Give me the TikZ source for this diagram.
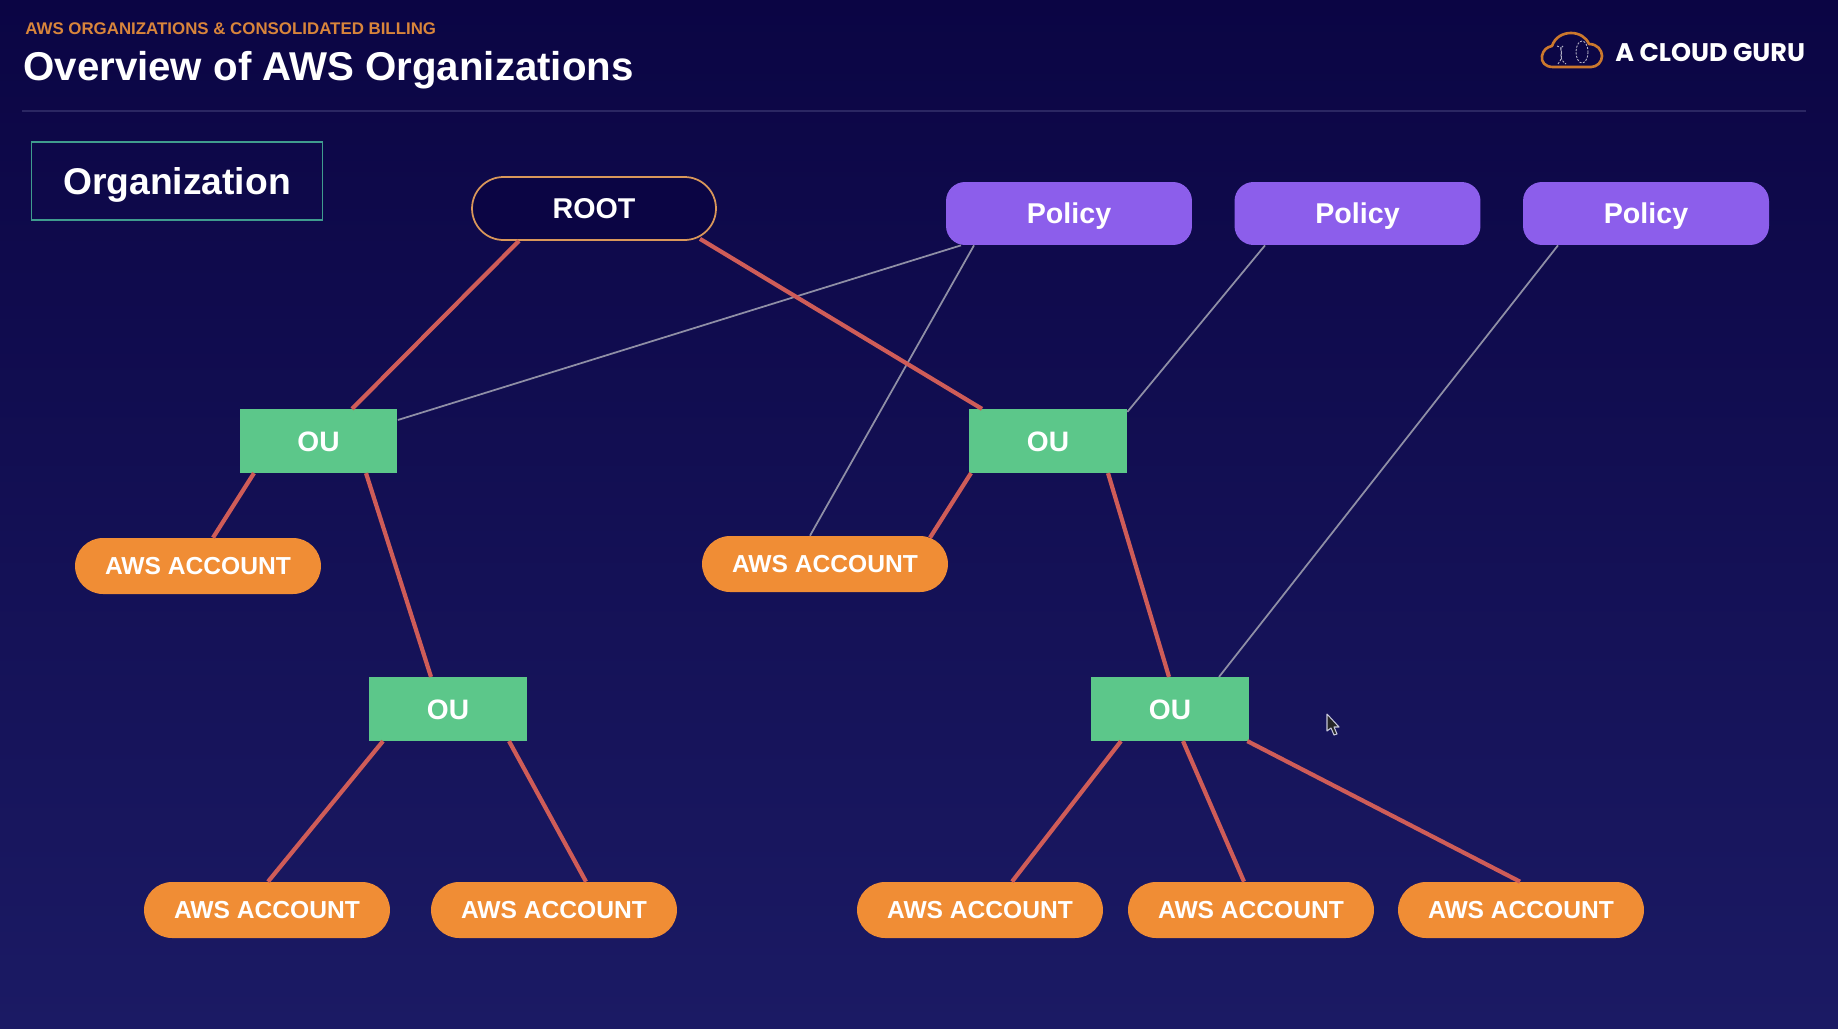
\documentclass[tikz,border=0pt]{standalone}
\usepackage{fontspec}
\setmainfont{Liberation Sans}
\newfontfamily\logofont{Poppins}
\usetikzlibrary{calc}
\definecolor{bgtop}{HTML}{0B0544}
\definecolor{bgmid}{HTML}{131050}
\definecolor{bgbot}{HTML}{1B1A64}
\definecolor{ougreen}{HTML}{5CC78A}
\definecolor{accorange}{HTML}{F08D35}
\definecolor{polpurple}{HTML}{8C5EEB}
\definecolor{linkred}{HTML}{CF5C58}
\definecolor{linkgrey}{HTML}{8F8FA6}
\definecolor{orgteal}{HTML}{3F9C8E}
\definecolor{rootline}{HTML}{D9975A}
\definecolor{subtitle}{HTML}{D9853B}
\definecolor{rulecol}{HTML}{2B2763}
\tikzset{
  x=0.02cm,y=-0.02cm,
  ounode/.style={fill=ougreen,text=white,minimum width=3.16cm,minimum height=1.27cm,inner sep=0pt,text height=11.5pt,text depth=0pt,font=\fontsize{16}{18}\selectfont\bfseries},
  accnode/.style={fill=accorange,text=white,rounded corners=0.56cm,minimum width=4.92cm,minimum height=1.12cm,inner sep=0pt,text height=10pt,text depth=0pt,font=\fontsize{14}{16}\selectfont\bfseries},
  polnode/.style={fill=polpurple,text=white,rounded corners=0.38cm,minimum width=4.92cm,minimum height=1.26cm,inner sep=0pt,text height=11.5pt,text depth=0pt,font=\fontsize{16.3}{18}\selectfont\bfseries},
  rootnode/.style={draw=rootline,line width=1pt,fill=bgtop,text=white,rounded corners=0.63cm,minimum width=4.88cm,minimum height=1.26cm,inner sep=0pt,text height=11.5pt,text depth=0pt,font=\fontsize{16.3}{18}\selectfont\bfseries},
  orgnode/.style={draw=orgteal,line width=1pt,text=white,minimum width=5.82cm,minimum height=1.56cm,inner sep=0pt,text height=15pt,text depth=0pt,font=\fontsize{21.2}{23}\selectfont\bfseries},
  redlink/.style={draw=linkred,line width=2.4pt},
  greylink/.style={draw=linkgrey,line width=1pt},
}
\begin{document}
\begin{tikzpicture}
\useasboundingbox (0,0) rectangle (1838,1028);
\shade[top color=bgtop,middle color=bgmid,bottom color=bgbot] (0,0) rectangle (1838,1028);

% header
\node[anchor=base west,inner sep=0pt,text=subtitle,font=\fontsize{9.6}{11}\selectfont\bfseries] (sub) at (25,34) {AWS ORGANIZATIONS \& CONSOLIDATED BILLING};
\node[anchor=base west,inner sep=0pt,text=white,font=\fontsize{22.9}{26}\selectfont\bfseries] (title) at (23,80) {Overview of AWS Organizations};
\coordinate (ruleL) at (22,111);
\coordinate (ruleR) at (1806,111);
\draw[rulecol,line width=0.8pt] (ruleL) -- (ruleR);

% logo
\draw[accorange!85!black,line width=1.5pt,line join=round]
  (1553,67) .. controls (1545,67) and (1541,62) .. (1542,56)
  .. controls (1543,50) and (1547,47) .. (1552,46)
  .. controls (1555,37) and (1563,33) .. (1571,33)
  .. controls (1579,33) and (1586,37) .. (1589,44)
  .. controls (1597,44) and (1602,50) .. (1602,56)
  .. controls (1602,62) and (1597,67) .. (1591,67) -- cycle;
\draw[white!70!bgtop,line width=0.5pt,dash pattern=on 1.2pt off 0.8pt] (1582,52) ellipse [x radius=6,y radius=11];
\draw[white!70!bgtop,line width=0.5pt,dash pattern=on 1.2pt off 0.8pt]
  (1557,46) .. controls (1566,48) and (1558,56) .. (1562,60) .. controls (1564,62) and (1565,64) .. (1566,64);
\draw[white!70!bgtop,line width=0.5pt,dash pattern=on 1.2pt off 0.8pt]
  (1563,46) .. controls (1557,50) and (1566,54) .. (1558,64);
\node[anchor=base west,inner sep=0pt,text=white,font=\fontsize{14.5}{15}\selectfont\logofont\bfseries] (logo) at (1615,61) {A CLOUD GURU};

% boxes
\node[orgnode] (org) at (177,181) {Organization};
\node[rootnode] (root) at (594,208.5) {ROOT};
\node[polnode] (p1) at (1069,213.5) {Policy};
\node[polnode] (p2) at (1357.5,213.5) {Policy};
\node[polnode] (p3) at (1646,213.5) {Policy};
\node[ounode] (ou1) at (318.5,441) {OU};
\node[ounode] (ou2) at (1048,441) {OU};
\node[ounode] (ou3) at (448,709) {OU};
\node[ounode] (ou4) at (1170,709) {OU};
\node[accnode] (a1) at (198,566) {AWS ACCOUNT};
\node[accnode] (a2) at (825,564) {AWS ACCOUNT};
\node[accnode] (a3) at (267,910) {AWS ACCOUNT};
\node[accnode] (a4) at (554,910) {AWS ACCOUNT};
\node[accnode] (a5) at (980,910) {AWS ACCOUNT};
\node[accnode] (a6) at (1251,910) {AWS ACCOUNT};
\node[accnode] (a7) at (1521,910) {AWS ACCOUNT};

% policy links
\draw[greylink] ($(p1.south)+(-108,0)$) -- ($(ou1.east)+(0,-21)$);
\draw[greylink] ($(p1.south)+(-95,0)$) -- ($(a2.north)+(-15,0)$);
\draw[greylink] ($(p2.south)+(-92.5,0)$) -- ($(ou2.north east)+(0,3)$);
\draw[greylink] ($(p3.south)+(-88,0)$) -- ($(ou4.north)+(49,0)$);

% hierarchy links
\draw[redlink] ($(root.south)+(-75,0)$) -- ($(ou1.north)+(33.5,0)$);
\draw[redlink] ($(root.south)+(106,-2)$) -- ($(ou2.north)+(-66,0)$);
\draw[redlink] ($(ou1.south)+(-64.5,0)$) -- ($(a1.north)+(15,0)$);
\draw[redlink] ($(ou1.south)+(47.5,0)$) -- ($(ou3.north)+(-17,0)$);
\draw[redlink] ($(ou3.south)+(-65,0)$) -- ($(a3.north)+(1,0)$);
\draw[redlink] ($(ou3.south)+(61,0)$) -- ($(a4.north)+(32,0)$);
\draw[redlink] ($(ou2.south)+(-77,0)$) -- ($(a2.north)+(105,2)$);
\draw[redlink] ($(ou2.south)+(60,0)$) -- ($(ou4.north)+(-1,0)$);
\draw[redlink] ($(ou4.south)+(-49,0)$) -- ($(a5.north)+(32,0)$);
\draw[redlink] ($(ou4.south)+(13,0)$) -- ($(a6.north)+(-7,0)$);
\draw[redlink] ($(ou4.south east)+(-2,0)$) -- ($(a7.north)+(-1,0)$);

% cursor
\draw[draw=white!75!bgbot,fill=black!85,line width=0.6pt,line join=round]
  (1327,714) -- (1327,731) -- (1331,728) -- (1334,735) -- (1337,734) -- (1334,727) -- (1339,727) -- cycle;
\end{tikzpicture}
\end{document}
